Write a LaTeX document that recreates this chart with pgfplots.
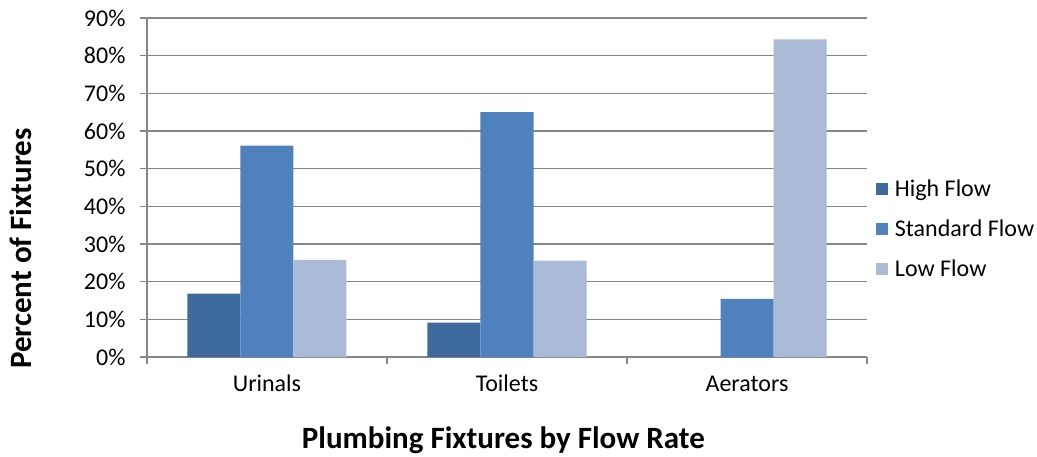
\documentclass[border=0pt]{standalone}
\usepackage{pgfplots}
\pgfplotsset{compat=1.18}
\usepackage{fontspec}
\setmainfont{Carlito}
\definecolor{highc}{RGB}{63,106,157}
\definecolor{stdc}{RGB}{79,129,189}
\definecolor{lowc}{RGB}{170,186,215}
\definecolor{gridc}{RGB}{134,134,134}
\begin{document}
\begin{tikzpicture}[x=1pt,y=1pt]
\path[use as bounding box] (-147,-99) rectangle (890,357);
\begin{axis}[
  at={(0,0)}, anchor=south west,
  scale only axis, width=720pt, height=339pt,
  ybar=0pt, bar width=53pt,
  xmin=-0.5, xmax=2.5, ymin=0, ymax=90,
  xtick={0,1,2}, xticklabels={Urinals,Toilets,Aerators},
  minor xtick={-0.5,0.5,1.5,2.5},
  ytick={0,10,...,90},
  yticklabel={\pgfmathprintnumber{\tick}\%},
  /pgf/number format/assume math mode=true,
  tick align=outside,
  major tick length=7pt, minor tick length=7pt,
  xtick style={draw=none},
  minor x tick style={draw=gridc, line width=1.3pt},
  ytick style={draw=gridc, line width=1.3pt},
  ymajorgrids, grid style={draw=gridc, line width=1.5pt},
  axis x line*=bottom, axis y line*=left,
  axis line style={draw=gridc, line width=1.5pt, -},
  ticklabel style={font=\fontsize{24}{28}\selectfont},
  yticklabel style={xshift=-11pt},
  xticklabel style={yshift=-12pt, text height=12pt, text depth=5pt},
  xlabel={\textbf{Plumbing Fixtures by Flow Rate}},
  ylabel={\textbf{Percent of Fixtures}},
  label style={font=\fontsize{31}{36}\selectfont},
  xlabel style={at={(axis description cs:0.495,-0.245)}, anchor=center},
  ylabel style={at={(axis description cs:-0.176,0.32)}, anchor=center, rotate=0},
  legend style={draw=none, fill=none, at={(1.008,0.378)}, anchor=west,
    font=\fontsize{24}{28}\selectfont, row sep=18pt,
    /tikz/every even column/.append style={column sep=0pt}},
  legend cell align=left,
  legend image code/.code={\fill[#1] (0pt,-6pt) rectangle (12pt,6pt); \path (0pt,0pt) -- (17pt,0pt);},
  clip=false,
]
\addplot[fill=highc, draw=none] coordinates {(0,16.8) (1,9.1) (2,0)};
\addplot[fill=stdc, draw=none] coordinates {(0,56.1) (1,65.0) (2,15.4)};
\addplot[fill=lowc, draw=none] coordinates {(0,25.8) (1,25.6) (2,84.3)};
\legend{High Flow, Standard Flow, Low Flow}
\end{axis}
\end{tikzpicture}
\end{document}
